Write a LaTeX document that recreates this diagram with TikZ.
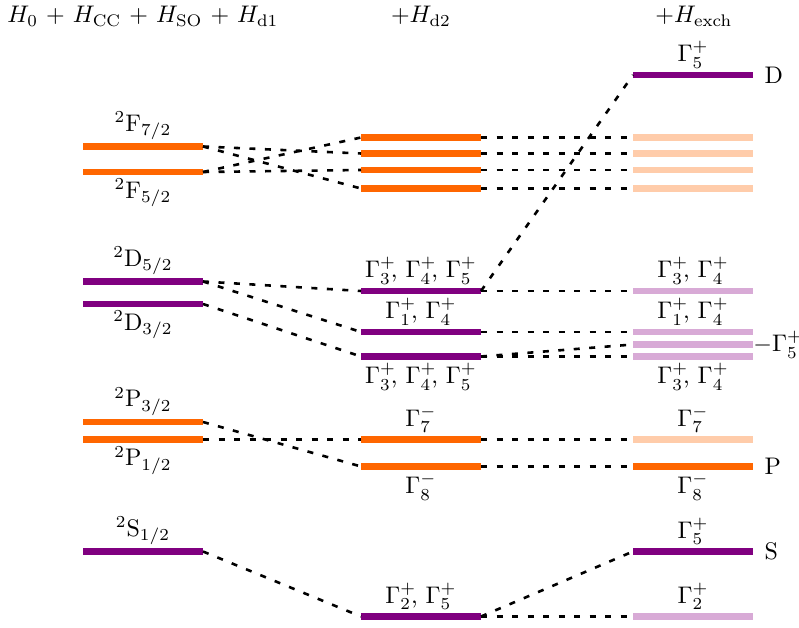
\documentclass[tikz,border=0pt]{standalone}
\definecolor{lvorange}{RGB}{255,102,0}
\definecolor{lvpurple}{RGB}{128,0,128}
\definecolor{lvorangel}{RGB}{255,204,170}
\definecolor{lvpurplel}{RGB}{216,170,214}
\newcommand{\GmT}[2]{\Gamma_{#1}^{\rlap{$\scriptstyle #2$}}}
\begin{document}
\begin{tikzpicture}[x=0.41667pt,y=-0.41667pt,
  lvl/.style={fill=#1, draw=none, minimum width=50pt, minimum height=2.71pt, inner sep=0pt, outer sep=0pt},
  conn/.style={line width=1.08pt, dash pattern=on 2.5pt off 3.96pt},
  every label/.style={inner sep=0pt},
  label distance=1.25pt,
  side/.style={label={[label distance=4.6pt]right:#1}}]
\useasboundingbox (0,0) rectangle (799,628);

% headers
\node[anchor=base, inner sep=0pt] (h1) at (143,23) {$H_0$ + $H_{\mathrm{CC}}$ + $H_{\mathrm{SO}}$ + $H_{\mathrm{d1}}$};
\node[anchor=base, inner sep=0pt] (h2) at (421,23) {$+H_{\mathrm{d2}}$};
\node[anchor=base, inner sep=0pt] (h3) at (694,23) {$+H_{\mathrm{exch}}$};

% column 1
\node[lvl=lvorange, label=above:{$^{2}\mathrm{F}_{7/2}$}] (f72) at (143,146.5) {};
\node[lvl=lvorange, label=below:{$^{2}\mathrm{F}_{5/2}$}] (f52) at (143,172) {};
\node[lvl=lvpurple, label=above:{$^{2}\mathrm{D}_{5/2}$}] (d52) at (143,281.5) {};
\node[lvl=lvpurple, label=below:{$^{2}\mathrm{D}_{3/2}$}] (d32) at (143,304) {};
\node[lvl=lvorange, label=above:{$^{2}\mathrm{P}_{3/2}$}] (p32) at (143,422) {};
\node[lvl=lvorange, label=below:{$^{2}\mathrm{P}_{1/2}$}] (p12) at (143,439.5) {};
\node[lvl=lvpurple, label=above:{$^{2}\mathrm{S}_{1/2}$}] (s12) at (143,551.5) {};

% column 2
\node[lvl=lvorange] (bfa) at (421,137.5) {};
\node[lvl=lvorange] (bfb) at (421,153.5) {};
\node[lvl=lvorange] (bfc) at (421,170) {};
\node[lvl=lvorange] (bfd) at (421,188.5) {};
\node[lvl=lvpurple, label=above:{$\GmT{3}{+}$, $\GmT{4}{+}$, $\Gamma_5^+$}] (bde) at (421,291) {};
\node[lvl=lvpurple, label=above:{$\GmT{1}{+}$, $\Gamma_4^+$}] (bdf) at (421,332) {};
\node[lvl=lvpurple, label=below:{$\GmT{3}{+}$, $\GmT{4}{+}$, $\Gamma_5^+$}] (bdg) at (421,356.5) {};
\node[lvl=lvorange, label=above:{$\Gamma_7^-$}] (bp7) at (421,439.5) {};
\node[lvl=lvorange, label=below:{$\Gamma_8^-$}] (bp8) at (421,466.5) {};
\node[lvl=lvpurple, label=above:{$\GmT{2}{+}$, $\Gamma_5^+$}] (bs) at (421,616.5) {};

% column 3
\node[lvl=lvpurple, label=above:{$\Gamma_5^+$}, side=D] (cD) at (693,75) {};
\node[lvl=lvorangel] (cfa) at (693,137.5) {};
\node[lvl=lvorangel] (cfb) at (693,153.5) {};
\node[lvl=lvorangel] (cfc) at (693,170) {};
\node[lvl=lvorangel] (cfd) at (693,188.5) {};
\node[lvl=lvpurplel, label=above:{$\GmT{3}{+}$, $\Gamma_4^+$}] (cde) at (693,291) {};
\node[lvl=lvpurplel, label=above:{$\GmT{1}{+}$, $\Gamma_4^+$}] (cdf) at (693,332) {};
\node[lvl=lvpurplel, label={[label distance=0pt]right:{$-\Gamma_5^+$}}] (cdg) at (693,344.5) {};
\node[lvl=lvpurplel, label=below:{$\GmT{3}{+}$, $\Gamma_4^+$}] (cdh) at (693,356.5) {};
\node[lvl=lvorangel, label=above:{$\Gamma_7^-$}] (cp7) at (693,439.5) {};
\node[lvl=lvorange, label=below:{$\Gamma_8^-$}, side=P] (cp8) at (693,466.5) {};
\node[lvl=lvpurple, label=above:{$\Gamma_5^+$}, side=S] (cs5) at (693,551.5) {};
\node[lvl=lvpurplel, label=above:{$\Gamma_2^+$}] (cs2) at (693,616.5) {};

% connectors column 1 -> 2
\draw[conn] (f72.east) -- (bfb.west);
\draw[conn] (f72.east) -- (bfd.west);
\draw[conn] (f52.east) -- (bfa.west);
\draw[conn] (f52.east) -- (bfc.west);
\draw[conn] (d52.east) -- (bde.west);
\draw[conn] (d52.east) -- (bdf.west);
\draw[conn] (d32.east) -- (bdg.west);
\draw[conn] (p32.east) -- (bp8.west);
\draw[conn] (p12.east) -- (bp7.west);
\draw[conn] (s12.east) -- (bs.west);

% connectors column 2 -> 3
\draw[conn] (bfa.east) -- (cfa.west);
\draw[conn] (bfb.east) -- (cfb.west);
\draw[conn] (bfc.east) -- (cfc.west);
\draw[conn] (bfd.east) -- (cfd.west);
\draw[conn] (bde.east) -- (cD.west);
\draw[conn] (bde.east) -- (cde.west);
\draw[conn] (bdf.east) -- (cdf.west);
\draw[conn] (bdg.east) -- (cdg.west);
\draw[conn] (bdg.east) -- (cdh.west);
\draw[conn] (bp7.east) -- (cp7.west);
\draw[conn] (bp8.east) -- (cp8.west);
\draw[conn] (bs.east) -- (cs5.west);
\draw[conn] (bs.east) -- (cs2.west);
\end{tikzpicture}
\end{document}
